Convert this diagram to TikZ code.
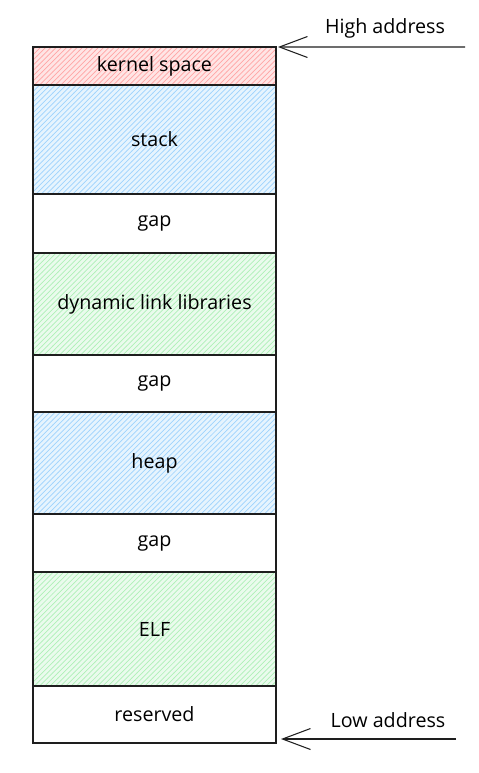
\documentclass[tikz,border=0pt]{standalone}
\usepackage{fontspec}
\setmainfont{Open Sans}
\usepackage{tikz}
\usetikzlibrary{arrows.meta,patterns}
\definecolor{inkline}{HTML}{1E1E1E}
\definecolor{hatchred}{HTML}{FF8787}
\definecolor{hatchblue}{HTML}{74C0FC}
\definecolor{hatchgreen}{HTML}{8CE99A}
\newcommand{\blkfont}{\fontsize{11.2}{13}\selectfont}
\tikzset{
  memblk/.style={ draw=inkline, line width=0.7pt, minimum width=4.86cm, outer sep=0pt, font=\blkfont }
}
\tikzset{
  memred/.style={ memblk, preaction={fill=hatchred!22}, preaction={pattern=north east lines, pattern color=hatchred!75} }
}
\tikzset{
  memblue/.style={ memblk, preaction={fill=hatchblue!18}, preaction={pattern=north east lines, pattern color=hatchblue!70} }
}
\tikzset{
  memgreen/.style={ memblk, preaction={fill=hatchgreen!18}, preaction={pattern=north east lines, pattern color=hatchgreen!70} }
}
\tikzset{
  addrarrow/.style={ draw=inkline, line width=0.6pt, -{Straight Barb[length=5.6mm, width=4.2mm]} }
}
\begin{document}
\begin{tikzpicture}[x=0.02cm, y=-0.02cm]
      \useasboundingbox (0, 0) rectangle (479, 773);
      \node[memred, minimum height=0.76cm] (kernel) at (154.5, 66) {kernel space};
      \node[memblue, minimum height=2.18cm] (stack) at (154.5, 139.5) {stack};
      \node[memblk, minimum height=1.18cm] (gapA) at (154.5, 223.5) {gap};
      \node[memgreen, minimum height=2.04cm] (dll) at (154.5, 304) {dynamic link libraries};
      \node[memblk, minimum height=1.14cm] (gapB) at (154.5, 383.5) {gap};
      \node[memblue, minimum height=2.04cm] (heap) at (154.5, 463) {heap};
      \node[memblk, minimum height=1.16cm] (gapC) at (154.5, 543) {gap};
      \node[memgreen, minimum height=2.28cm] (elf) at (154.5, 629) {ELF};
      \node[memblk, minimum height=1.14cm] (reserved) at (154.5, 714.5) {reserved};
      \node[font=\blkfont] (high) at (385, 28) {High address};
      \node[font=\blkfont] (low) at (388, 720) {Low address};
      \coordinate (highTail) at (465, 47);
      \coordinate (lowTail) at (456, 739);
      \coordinate (lowTip) at (281, 739);
      \draw[addrarrow] (highTail) -- ([xshift=0.04cm]kernel.north east);
      \draw[addrarrow] (lowTail) -- (lowTip);
    \end{tikzpicture}
\end{document}
